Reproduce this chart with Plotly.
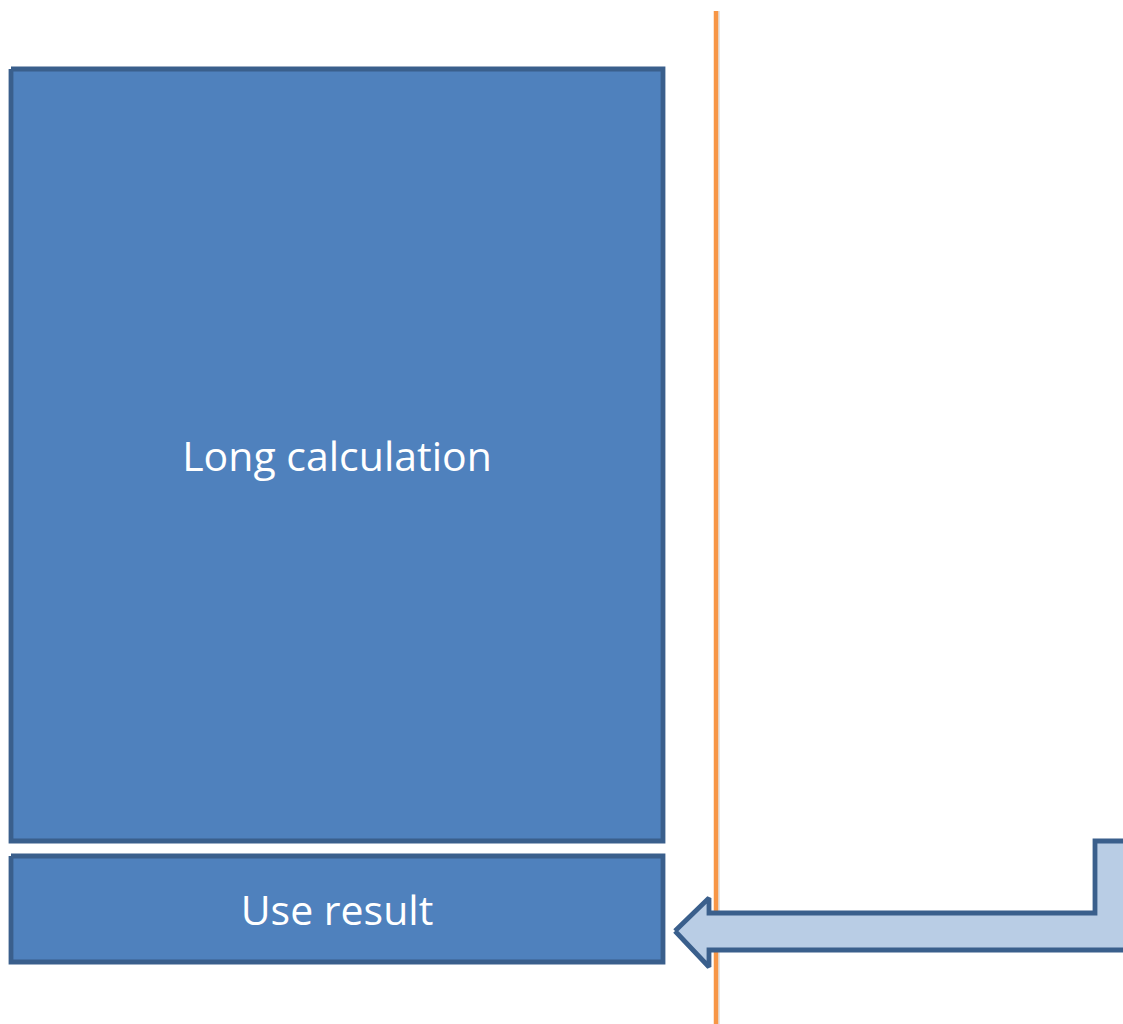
import plotly.graph_objects as go

# Diagram geometry (pixel coordinates in a 1123 x 1024 canvas, y downward)
box_labels = ["Long calculation", "Use result"]
box_x0 = [11, 11]
box_x1 = [663, 663]
box_y0 = [69, 856]
box_y1 = [841, 962]

timeline_x = [716, 716]
timeline_y = [11, 1040]

arrow_x = [675, 709, 709, 1095, 1095, 1140, 1140, 709, 709, 675]
arrow_y = [931, 898, 913, 913, 841, 841, 950, 950, 967, 931]

BOX_FILL = "#4F81BD"
BOX_LINE = "#3A5F8C"
ARROW_FILL = "#B9CDE5"
ORANGE = "#F79646"

TEXT_DROP = 6  # visual centring correction for the labels

fig = go.Figure()

for lab, x0, x1, y0, y1 in zip(box_labels, box_x0, box_x1, box_y0, box_y1):
    fig.add_trace(go.Scatter(
        x=[x0, x1, x1, x0, x0], y=[y0, y0, y1, y1, y0],
        mode="lines", fill="toself", fillcolor=BOX_FILL,
        line=dict(color=BOX_LINE, width=4.8), hoverinfo="skip", showlegend=False))
    fig.add_trace(go.Scatter(
        x=[(x0 + x1) / 2], y=[(y0 + y1) / 2 + TEXT_DROP], mode="text", text=[lab],
        textfont=dict(family="Open Sans", size=41, color="white"),
        textposition="middle center", hoverinfo="skip", showlegend=False))

# timeline shadow + line
fig.add_trace(go.Scatter(x=[v + 3 for v in timeline_x], y=timeline_y, mode="lines",
                         line=dict(color="rgba(0,0,0,0.10)", width=2),
                         hoverinfo="skip", showlegend=False))
fig.add_trace(go.Scatter(x=timeline_x, y=timeline_y, mode="lines",
                         line=dict(color=ORANGE, width=4.5),
                         hoverinfo="skip", showlegend=False))

fig.add_trace(go.Scatter(x=arrow_x, y=arrow_y, mode="lines", fill="toself",
                         fillcolor=ARROW_FILL, line=dict(color=BOX_LINE, width=4.8),
                         hoverinfo="skip", showlegend=False))

fig.update_layout(
    width=1123, height=1024, margin=dict(l=0, r=0, t=0, b=0),
    plot_bgcolor="white", paper_bgcolor="white",
    xaxis=dict(range=[0, 1123], visible=False, fixedrange=True),
    yaxis=dict(range=[1024, 0], visible=False, fixedrange=True),
)

fig.write_html(
    "out.html",
    config={"displayModeBar": False},
    post_script="document.body.style.margin='0';document.body.style.overflow='hidden';",
)
